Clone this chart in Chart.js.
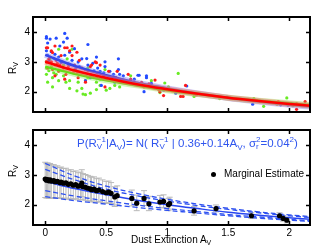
<!DOCTYPE html>
<html><head><meta charset="utf-8">
<script src="https://cdn.jsdelivr.net/npm/chart.js@4/dist/chart.umd.min.js"></script>
<style>
html,body{margin:0;padding:0;background:#fff;}
#wrap{position:relative;width:333px;height:251px;background:#fff;font-family:"Liberation Sans",Arial,sans-serif;}
canvas{position:absolute;left:0;}
.t{position:absolute;white-space:nowrap;color:#000;font-size:10px;line-height:12px;}
.t sub{font-size:70%;line-height:0;vertical-align:-0.35em;}
.t sup{font-size:70%;line-height:0;vertical-align:0.55em;}
.ytitle{transform:translate(-50%,-50%) rotate(-90deg);transform-origin:50% 50%;}
.eq{color:#2f55ee;font-size:11.5px;}
.ss{display:inline-flex;flex-direction:column;font-size:70%;line-height:0.9em;vertical-align:0.6em;}
.dot{position:absolute;width:5px;height:5px;border-radius:50%;background:#000;}
</style></head>
<body>
<div id="wrap">
<canvas id="cTop" width="333" height="121" style="top:0"></canvas>
<canvas id="cBot" width="333" height="130" style="top:121px"></canvas>
<div class="t ytitle" style="left:13px;top:68px">R<sub>V</sub></div>
<div class="t ytitle" style="left:13px;top:171px">R<sub>V</sub></div>
<div class="t" style="left:131px;top:234px">Dust Extinction A<sub>V</sub></div>
<div class="t eq" style="left:77px;top:136px">P(R<span class="ss"><span>−1</span><span>V</span></span>|A<sub>V</sub>)= N( R<span class="ss"><span>−1</span><span>V</span></span> | 0.36+0.14A<sub>V</sub>, σ<span class="ss"><span>2</span><span>r</span></span>=0.04<sup>2</sup>)</div>
<div class="dot" style="left:211px;top:171.5px"></div>
<div class="t" style="left:224px;top:168px">Marginal Estimate</div>
</div>
<script>
// ---------- data ----------
const xTicks = [0, 0.5, 1, 1.5, 2];
const yTicks = [2, 3, 4];

const blueA = [0.01,0.04,0.02,0.09,0.16,0.15,0.12,0.24,0.35,0.01,0.05,0.02,0.08,0.11,0.16,0.2,0.22,0.27,0.3,0.28,0.35,0.39,0.42,0.43,0.49,0.48,0.53,0.56,0.6,0.6,0.61,0.64,0.37,0.57,0.33,0.49,0.01,0.18,0.34,0.5,0.83,0.87,0.81,0.97,0.45,0.77,0.83,0.87,1.16,1.07,1.49,1.7,1.93,1.99,2.02,2.06,0.03,0.07,0.13,0.19,0.25,0.4,0.7,0.73,1.1,0.46,0.76];
const blueR = [3.79,3.76,3.63,3.79,3.95,3.66,3.53,3.44,3.58,3.37,3.34,3.22,3.25,3.16,3.22,3.32,3.05,2.99,3.1,2.84,2.89,2.95,3.16,2.79,2.84,2.63,2.68,2.58,3.1,2.74,2.58,2.53,2.47,2.32,2.37,3.0,3.84,3.79,3.11,2.42,2.53,2.21,2.0,2.05,2.68,2.55,2.47,2.28,2.19,1.95,1.82,1.58,1.56,1.55,1.6,1.58,3.05,3.12,2.98,2.93,2.78,2.7,2.35,2.42,2.0,2.21,2.55];

const redA = [0.02,0.06,0.04,0.01,0.05,0.09,0.13,0.16,0.2,0.22,0.12,0.02,0.06,0.11,0.15,0.19,0.24,0.26,0.28,0.33,0.37,0.38,0.41,0.43,0.48,0.52,0.54,0.58,0.63,0.65,0.27,0.16,0.33,0.08,0.49,0.45,0.37,0.23,0.17,0.01,0.05,0.08,0.18,0.22,0.26,0.42,0.42,0.59,0.68,0.78,0.94,0.97,0.7,0.74,0.79,0.85,0.9,0.81,0.93,1.15,1.11,1.13,1.24,1.9,1.91,2.06,2.06,2.13,0.03,0.1,0.14,0.3,0.35];
const redR = [3.47,3.31,3.16,3.0,3.0,3.05,3.21,3.47,3.37,3.21,2.89,2.79,2.74,2.68,2.79,2.84,2.89,2.68,3.05,2.74,2.58,2.89,3.0,2.63,2.53,2.68,2.42,2.47,2.37,2.32,2.47,2.42,2.32,2.53,2.16,2.89,2.84,2.63,2.58,3.47,3.37,3.53,3.47,3.53,3.32,2.97,2.47,2.68,2.58,2.26,2.0,1.87,2.42,2.26,2.31,2.26,2.39,2.16,2.07,2.21,1.84,1.84,1.89,1.6,1.67,1.6,1.41,1.67,3.1,2.95,3.0,2.8,2.7];

const greenA = [0.01,0.01,0.02,0.06,0.09,0.11,0.05,0.15,0.17,0.2,0.22,0.27,0.33,0.35,0.39,0.42,0.45,0.2,0.3,0.26,0.33,0.5,0.53,0.57,0.64,0.61,0.06,0.04,0.11,0.15,0.24,0.35,0.49,0.7,1.09,0.98,0.87,0.94,1.01,1.22,1.43,1.71,1.79,1.9,1.98,2.03,0.07,0.18,0.31,0.37,0.45,0.42,0.03,0.08,0.01];
const greenR = [2.79,2.58,2.32,2.47,2.58,2.37,2.84,2.53,2.32,2.37,3.42,2.32,2.37,2.47,2.53,2.32,2.42,2.11,2.11,2.03,1.9,2.05,2.11,2.21,2.37,2.16,2.16,3.1,3.42,2.89,2.74,2.79,2.74,2.53,2.61,2.29,2.37,1.97,2.16,1.84,1.77,1.77,1.51,1.58,1.79,1.53,2.63,3.1,1.92,1.95,2.21,2.07,2.7,2.9,3.0];

const fitA = [0, 0.25, 0.5, 0.75, 1, 1.25, 1.5, 1.75, 2, 2.17];
const blueFit  = [3.23, 2.85, 2.55, 2.30, 2.11, 1.94, 1.79, 1.67, 1.56, 1.50];
const redFit   = [3.00, 2.70, 2.46, 2.25, 2.08, 1.93, 1.80, 1.69, 1.59, 1.53];
const greenFit = [2.84, 2.59, 2.38, 2.21, 2.05, 1.92, 1.80, 1.70, 1.61, 1.55];

const meanFit    = [2.78, 2.53, 2.33, 2.15, 2.00, 1.87, 1.75, 1.65, 1.56, 1.51];
const outerUpper = [3.38, 2.95, 2.62, 2.38, 2.18, 2.02, 1.88, 1.76, 1.66, 1.60];
const innerUpper = [3.18, 2.82, 2.52, 2.30, 2.12, 1.97, 1.84, 1.73, 1.63, 1.57];
const innerLower = [2.47, 2.28, 2.13, 1.99, 1.87, 1.77, 1.67, 1.59, 1.51, 1.46];
const outerLower = [2.27, 2.13, 2.02, 1.91, 1.81, 1.72, 1.63, 1.55, 1.48, 1.44];

const margA  = [0,0.01,0.02,0.03,0.04,0.05,0.07,0.08,0.1,0.12,0.13,0.15,0.17,0.19,0.21,0.23,0.25,0.27,0.29,0.3,0.31,0.33,0.35,0.37,0.38,0.4,0.42,0.44,0.47,0.5,0.52,0.54,0.57,0.59,0.71,0.75,0.81,0.85,0.94,0.97,1.01,1.02,1.22,1.4,1.69,1.92,1.95,1.98];
const margR  = [2.86,2.82,2.84,2.80,2.83,2.79,2.81,2.77,2.78,2.74,2.76,2.72,2.73,2.68,2.70,2.65,2.67,2.62,2.64,2.72,2.60,2.58,2.55,2.53,2.50,2.52,2.47,2.49,2.44,2.40,2.42,2.38,2.26,2.30,2.21,2.05,2.21,2.03,2.09,2.11,2.00,2.04,1.79,1.87,1.63,1.63,1.54,1.48];
const margUp = [0.56,0.55,0.56,0.54,0.55,0.54,0.53,0.52,0.52,0.5,0.5,0.49,0.49,0.48,0.47,0.46,0.46,0.45,0.45,0.45,0.44,0.43,0.43,0.42,0.42,0.41,0.4,0.4,0.39,0.38,0.37,0.36,0.34,0.33,0.28,0.27,0.26,0.25,0.22,0.22,0.21,0.21,0.15,0.12,0.1,0.1,0.1,0.1];
const margDn = [0.62,0.6,0.61,0.59,0.6,0.58,0.57,0.56,0.55,0.53,0.53,0.52,0.51,0.5,0.49,0.48,0.47,0.46,0.46,0.45,0.44,0.43,0.42,0.41,0.41,0.4,0.39,0.38,0.37,0.36,0.35,0.34,0.32,0.31,0.25,0.25,0.24,0.23,0.2,0.2,0.2,0.19,0.14,0.11,0.09,0.09,0.09,0.09];

// ---------- helpers ----------
const pts = (xs, ys) => xs.map((v, i) => ({x: v, y: ys[i]}));
const FONT = {family: '"Liberation Sans", Arial, sans-serif', size: 10};

const framePlugin = {
  id: 'frame',
  afterDraw(chart) {
    const {ctx, chartArea: a, scales: {x, y}} = chart;
    ctx.save();
    ctx.strokeStyle = '#000';
    ctx.lineWidth = 1.5;
    const tl = 4;
    ctx.beginPath();
    xTicks.forEach(v => {
      const px = Math.round(x.getPixelForValue(v)) + 0.5;
      ctx.moveTo(px, a.bottom); ctx.lineTo(px, a.bottom - tl);
      ctx.moveTo(px, a.top); ctx.lineTo(px, a.top + tl);
    });
    yTicks.forEach(v => {
      const py = Math.round(y.getPixelForValue(v)) + 0.5;
      ctx.moveTo(a.left, py); ctx.lineTo(a.left + tl, py);
      ctx.moveTo(a.right, py); ctx.lineTo(a.right - tl, py);
    });
    ctx.stroke();
    ctx.lineWidth = 2;
    ctx.strokeRect(a.left, a.top, a.right - a.left, a.bottom - a.top);
    ctx.restore();
  }
};

const errPlugin = {
  id: 'errbars',
  beforeDatasetsDraw(chart) {
    const {ctx, chartArea: a, scales: {x, y}} = chart;
    ctx.save();
    ctx.beginPath();
    ctx.rect(a.left, a.top, a.right - a.left, a.bottom - a.top);
    ctx.clip();
    ctx.strokeStyle = '#b9b9b9';
    ctx.lineWidth = 1;
    ctx.beginPath();
    margA.forEach((v, i) => {
      const px = x.getPixelForValue(v);
      const t = y.getPixelForValue(margR[i] + margUp[i]);
      const b = y.getPixelForValue(margR[i] - margDn[i]);
      ctx.moveTo(px, t); ctx.lineTo(px, b);
      ctx.moveTo(px - 3, t); ctx.lineTo(px + 3, t);
      ctx.moveTo(px - 3, b); ctx.lineTo(px + 3, b);
    });
    ctx.stroke();
    ctx.restore();
  }
};

function xScale(showLabels, h) {
  return {
    type: 'linear', min: -0.1, max: 2.17,
    grid: {display: false, drawTicks: false}, border: {display: false},
    afterBuildTicks: s => { s.ticks = xTicks.map(v => ({value: v})); },
    afterFit: s => { s.height = h; },
    ticks: {display: showLabels, color: '#000', font: FONT, padding: 2, maxRotation: 0,
            callback: v => String(v)}
  };
}
function yScale() {
  return {
    type: 'linear', min: 1.32, max: 4.5,
    grid: {display: false, drawTicks: false}, border: {display: false},
    afterBuildTicks: s => { s.ticks = yTicks.map(v => ({value: v})); },
    afterFit: s => { s.width = 33; },
    ticks: {color: '#000', font: FONT, padding: 3, callback: v => String(v)}
  };
}
const commonOpts = {
  responsive: false, animation: false, devicePixelRatio: 1,
  plugins: {legend: {display: false}, tooltip: {enabled: false}},
};

// ---------- top chart ----------
const lineDs = (data, color, w, order) => ({
  type: 'line', data, borderColor: color, borderWidth: w, pointRadius: 0,
  tension: 0.4, fill: false, order
});
const scatDs = (data, color, order) => ({
  type: 'scatter', data, backgroundColor: color, borderWidth: 0,
  pointRadius: 1.6, order
});

new Chart(document.getElementById('cTop'), {
  type: 'scatter',
  data: {datasets: [
    lineDs(pts(fitA, redFit), 'rgb(255,0,0)', 2.5, 1),
    lineDs(pts(fitA, redFit), 'rgba(255,110,110,0.45)', 6, 2),
    lineDs(pts(fitA, greenFit), 'rgb(95,225,20)', 2.5, 3),
    lineDs(pts(fitA, greenFit), 'rgba(150,240,100,0.45)', 6, 4),
    lineDs(pts(fitA, blueFit), 'rgb(55,70,235)', 2.5, 5),
    lineDs(pts(fitA, blueFit), 'rgba(130,140,245,0.45)', 6, 6),
    scatDs(pts(redA, redR), 'rgb(255,25,25)', 7),
    scatDs(pts(blueA, blueR), 'rgb(35,75,255)', 8),
    scatDs(pts(greenA, greenR), 'rgb(105,235,35)', 9),
  ]},
  options: Object.assign({}, commonOpts, {
    layout: {padding: {left: 0, right: 23, top: 17, bottom: 0}},
    scales: {x: xScale(false, 3), y: yScale()}
  }),
  plugins: [framePlugin]
});

// ---------- bottom chart ----------
const dashDs = (data, order) => ({
  type: 'line', data, borderColor: 'rgb(45,80,240)', borderWidth: 1.3,
  borderDash: [5, 3], pointRadius: 0, tension: 0.4, fill: false, order
});
new Chart(document.getElementById('cBot'), {
  type: 'scatter',
  data: {datasets: [
    {type: 'scatter', data: pts(margA, margR), backgroundColor: '#000', borderWidth: 0, pointRadius: 2.6, order: 1},
    {type: 'line', data: pts(fitA, meanFit), borderColor: 'rgb(40,70,240)', borderWidth: 1.5, pointRadius: 0, tension: 0.4, fill: false, order: 2},
    dashDs(pts(fitA, outerUpper), 3),
    dashDs(pts(fitA, innerUpper), 4),
    dashDs(pts(fitA, innerLower), 5),
    dashDs(pts(fitA, outerLower), 6),
  ]},
  options: Object.assign({}, commonOpts, {
    layout: {padding: {left: 0, right: 23, top: 3, bottom: 0}},
    scales: {x: xScale(true, 26), y: yScale()}
  }),
  plugins: [errPlugin, framePlugin]
});
</script>
</body></html>
